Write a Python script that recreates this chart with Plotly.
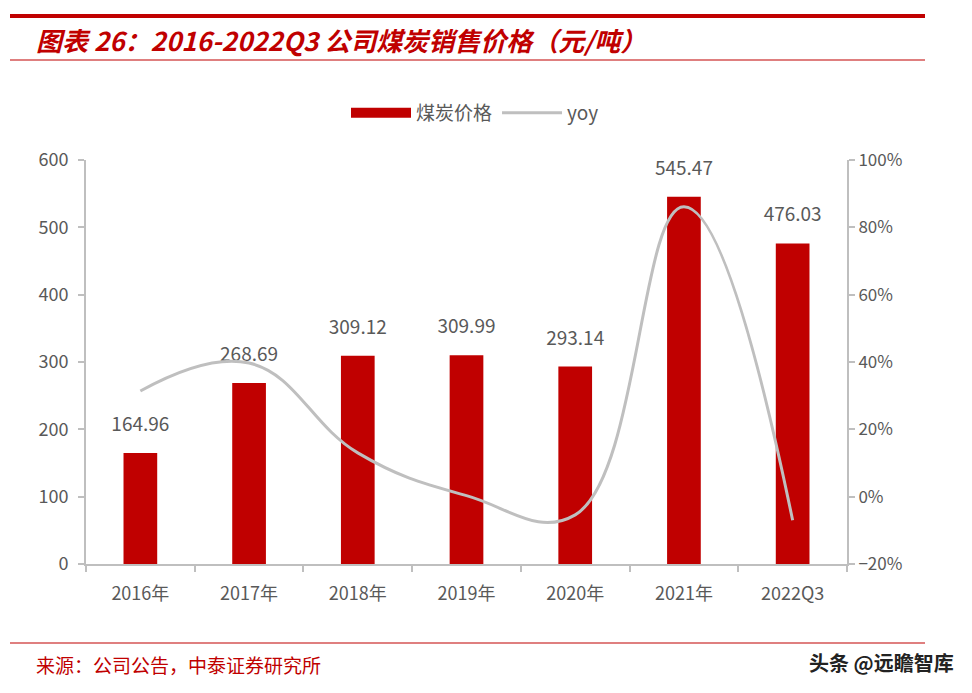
import plotly.graph_objects as go

categories = ["2016年", "2017年", "2018年", "2019年", "2020年", "2021年", "2022Q3"]
price = [164.96, 268.69, 309.12, 309.99, 293.14, 545.47, 476.03]
yoy = [0.314, 0.397, 0.13, 0.003, -0.054, 0.861, -0.07]
left_ticks = [0, 100, 200, 300, 400, 500, 600]
right_ticks = [-0.2, 0, 0.2, 0.4, 0.6, 0.8, 1.0]

RED = "#C00000"
GRAY = "#BFBFBF"
TXT = "#595959"
FONT = "Noto Sans CJK SC, Lato, sans-serif"

# plot area in window pixels: x 86..847, y 160..564 (page has 8px body offset)
PX0, PX1, PY0, PY1 = 86, 847, 160, 564


def px(x):
    return (x - PX0) / (PX1 - PX0)


def py(y):
    return 1 - (y - PY0) / (PY1 - PY0)


fig = go.Figure()
fig.add_trace(go.Bar(
    x=categories, y=price, name="煤炭价格", showlegend=False,
    marker=dict(color=RED, line=dict(width=0)),
    width=0.31,
))
# value labels above the bars
fig.add_trace(go.Scatter(
    x=categories, y=price, mode="markers+text", showlegend=False,
    marker=dict(size=26, color="rgba(0,0,0,0)"),
    text=[f"{v:.2f}" for v in price], textposition="top center",
    textfont=dict(size=19, color=TXT, family=FONT),
    cliponaxis=False, hoverinfo="skip",
))
# legend proxy for the bar series (wide red swatch as in the reference)
fig.add_trace(go.Scatter(
    x=[None], y=[None], name="煤炭价格", mode="lines",
    line=dict(color=RED, width=10),
))
fig.add_trace(go.Scatter(
    x=categories, y=yoy, name="yoy", yaxis="y2", mode="lines",
    line=dict(color=GRAY, width=3, shape="spline", smoothing=1.2),
))

fig.update_layout(
    width=972, height=693,
    margin=dict(l=78, r=133, t=152, b=137),
    paper_bgcolor="white", plot_bgcolor="white",
    font=dict(family=FONT, color=TXT, size=15),
    showlegend=True,
    legend=dict(orientation="h", x=px(475), xanchor="center", y=py(113), yanchor="middle",
                font=dict(size=19, color=TXT), itemwidth=60, traceorder="normal"),
    xaxis=dict(showline=True, linecolor=GRAY, linewidth=2, ticks="outside",
               tickson="boundaries", ticklen=6, tickcolor=GRAY, tickwidth=1.5,
               ticklabelstandoff=12,
               tickfont=dict(size=18, color=TXT), showgrid=False),
    yaxis=dict(range=[0, 600], tickvals=left_ticks, showline=True, linecolor=GRAY,
               linewidth=2, ticks="outside", ticklen=6, tickcolor=GRAY, tickwidth=1.5,
               ticklabelstandoff=6,
               tickfont=dict(size=18, color=TXT), showgrid=False, zeroline=False),
    yaxis2=dict(range=[-0.2, 1.0], tickvals=right_ticks, tickformat=".0%",
                overlaying="y", side="right", showline=True, linecolor=GRAY,
                linewidth=2, ticks="outside", ticklen=6, tickcolor=GRAY, tickwidth=1.5,
                tickfont=dict(size=17, color=TXT), showgrid=False, zeroline=False),
)

for yy, w in [(16, 4), (60, 1.2), (643, 1.2)]:
    fig.add_shape(type="line", xref="paper", yref="paper",
                  x0=px(10), x1=px(925), y0=py(yy), y1=py(yy),
                  line=dict(color=RED, width=w))

fig.add_annotation(xref="paper", yref="paper", x=px(34), y=py(40),
                   xanchor="left", yanchor="middle", showarrow=False,
                   text="<b><i>图表 26：2016-2022Q3 公司煤炭销售价格（元/吨）</i></b>",
                   font=dict(size=26, color=RED, family=FONT))
fig.add_annotation(xref="paper", yref="paper", x=px(34), y=py(664),
                   xanchor="left", yanchor="middle", showarrow=False,
                   text="来源：公司公告，中泰证券研究所",
                   font=dict(size=19, color=RED, family=FONT))
fig.add_annotation(xref="paper", yref="paper", x=px(956), y=py(662),
                   xanchor="right", yanchor="middle", showarrow=False,
                   text="<b>头条 @远瞻智库</b>",
                   font=dict(size=20, color="#222222", family=FONT))

fig.write_html("out.html")
